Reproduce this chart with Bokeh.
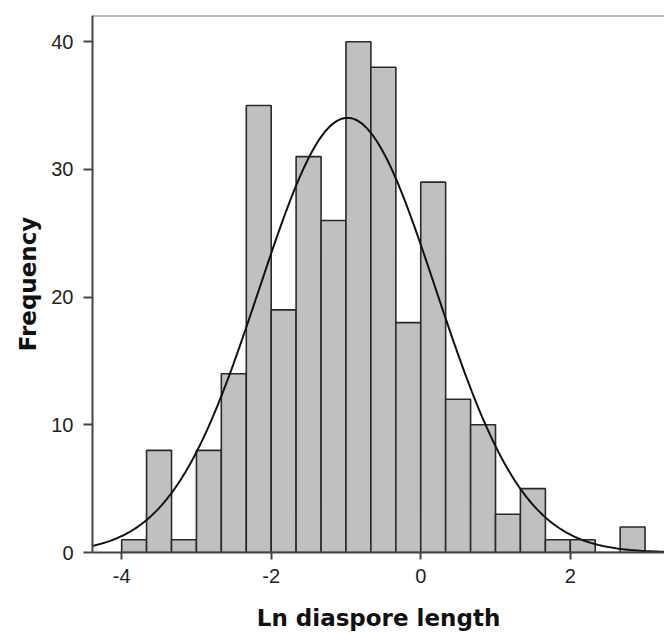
import numpy as np
from bokeh.plotting import figure
from bokeh.models import ColumnDataSource, FixedTicker, Span
from bokeh.embed import file_html
from bokeh.resources import INLINE

# ---- data ----
bin_left = [-4.0, -3.667, -3.333, -3.0, -2.667, -2.333, -2.0, -1.667, -1.333, -1.0,
            -0.667, -0.333, 0.0, 0.333, 0.667, 1.0, 1.333, 1.667, 2.0, 2.333, 2.667]
bin_right = [-3.667, -3.333, -3.0, -2.667, -2.333, -2.0, -1.667, -1.333, -1.0, -0.667,
             -0.333, 0.0, 0.333, 0.667, 1.0, 1.333, 1.667, 2.0, 2.333, 2.667, 3.0]
counts = [1, 8, 1, 8, 14, 35, 19, 31, 26, 40, 38, 18, 29, 12, 10, 3, 5, 1, 1, 0, 2]

x_ticks = [-4, -2, 0, 2]
x_tick_labels = ["-4", "-2", "0", "2"]
y_ticks = [0, 10, 20, 30, 40]

# fitted normal curve parameters
fit_mean = -0.98
fit_sd = 1.18
bin_width = 1.0 / 3.0
n_total = sum(counts)

x_range = (-4.39, 3.26)
y_range = (0, 42.05)

p = figure(width=664, height=633, output_backend="svg", toolbar_location=None,
           x_range=x_range, y_range=y_range,
           min_border_left=92, min_border_right=0, min_border_top=15, min_border_bottom=0)

src = ColumnDataSource(dict(left=bin_left, right=bin_right, top=counts,
                            bottom=[0] * len(counts)))
p.quad(left="left", right="right", top="top", bottom="bottom", source=src,
       fill_color="#c0c0c0", line_color="#2a2a2a", line_width=1.6)

xs = np.linspace(x_range[0] - 0.1, x_range[1] + 0.1, 400)
ys = n_total * bin_width / (fit_sd * np.sqrt(2 * np.pi)) * np.exp(-0.5 * ((xs - fit_mean) / fit_sd) ** 2)
p.line(xs, ys, line_color="#111111", line_width=2)

p.add_layout(Span(location=y_range[1], dimension="width", line_color="#777777", line_width=2))

p.outline_line_color = None
p.xgrid.visible = False
p.ygrid.visible = False
p.background_fill_color = "white"
p.border_fill_color = "white"

p.xaxis.ticker = FixedTicker(ticks=x_ticks)
p.xaxis.major_label_overrides = {t: lab for t, lab in zip(x_ticks, x_tick_labels)}
p.yaxis.ticker = FixedTicker(ticks=y_ticks)
p.xaxis.axis_label = "Ln diaspore length"
p.yaxis.axis_label = "Frequency"

for ax in (p.xaxis, p.yaxis):
    ax.axis_line_color = "#444444"
    ax.axis_line_width = 2
    ax.major_tick_line_color = "#444444"
    ax.major_tick_line_width = 2
    ax.major_tick_in = 0
    ax.minor_tick_line_color = None
    ax.major_label_text_font = "Liberation Sans"
    ax.major_label_text_font_size = "20px"
    ax.major_label_text_color = "#222222"
    ax.axis_label_text_font = "DejaVu Sans"
    ax.axis_label_text_font_style = "bold"
    ax.axis_label_text_font_size = "23px"
    ax.axis_label_text_color = "#111111"

p.xaxis.major_tick_out = 7
p.xaxis.major_label_standoff = 9
p.xaxis.axis_label_standoff = 19
p.yaxis.major_tick_out = 9
p.yaxis.major_label_standoff = 10
p.yaxis.axis_label_standoff = 7

open("out.html", "w").write(file_html(p, INLINE))
